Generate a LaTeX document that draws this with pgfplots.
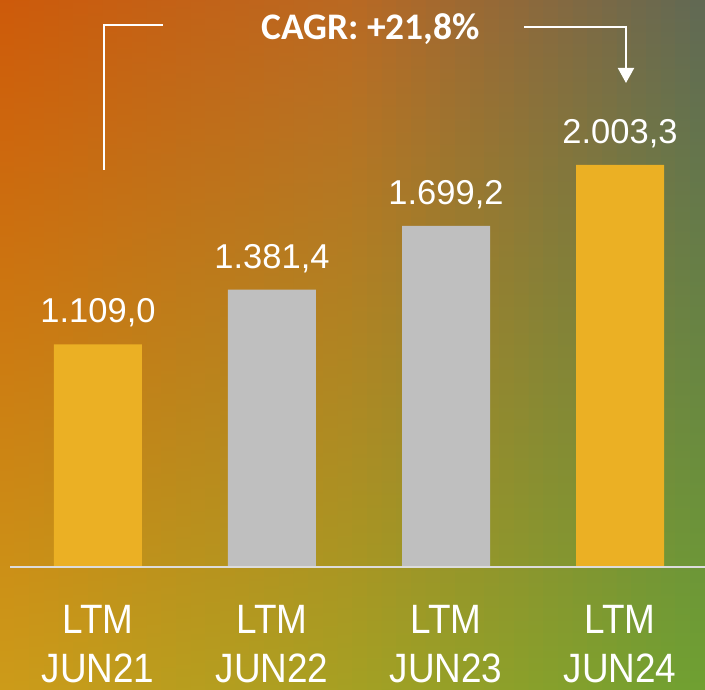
\documentclass[border=0pt]{standalone}
\usepackage{fontspec}
\setmainfont{Liberation Sans}
\newfontfamily\tickfont[FakeStretch=0.9]{Liberation Sans}
\newfontfamily\cagrfont{Carlito}
\usepackage{pgfplots}
\pgfplotsset{compat=1.18}
\usetikzlibrary{arrows.meta}

% background corner colours
\definecolor{cTL}{RGB}{205,90,10}
\definecolor{cTC}{RGB}{185,105,35}
\definecolor{cTR}{RGB}{95,105,85}
\definecolor{cML}{RGB}{205,125,20}
\definecolor{cMC}{RGB}{175,135,35}
\definecolor{cMR}{RGB}{120,150,55}
\definecolor{cBL}{RGB}{205,155,25}
\definecolor{cBC}{RGB}{165,160,35}
\definecolor{cBR}{RGB}{110,160,50}
\definecolor{gold}{RGB}{235,176,36}
\definecolor{bargrey}{RGB}{191,191,191}
\definecolor{linegrey}{RGB}{220,220,220}

\begin{document}
\begin{tikzpicture}[x=1pt,y=1pt]
\useasboundingbox (0,0) rectangle (705,689);
% gradient background, built from thin strips
\foreach \i in {0,...,23}{
  \pgfmathsetmacro\xa{\i*352.5/24}
  \pgfmathsetmacro\xb{(\i+1)*352.5/24+0.6}
  \pgfmathtruncatemacro\p{(\i+0.5)/24*100}
  \colorlet{ct}{cTC!\p!cTL}
  \colorlet{cm}{cMC!\p!cML}
  \colorlet{cb}{cBC!\p!cBL}
  \shade[top color=ct, middle color=cm, bottom color=cb] (\xa,0) rectangle (\xb,689);
}
\foreach \i in {0,...,23}{
  \pgfmathsetmacro\xa{352.5+\i*352.5/24}
  \pgfmathsetmacro\xb{352.5+(\i+1)*352.5/24+0.6}
  \pgfmathtruncatemacro\p{(\i+0.5)/24*100}
  \colorlet{ct}{cTR!\p!cTC}
  \colorlet{cm}{cMR!\p!cMC}
  \colorlet{cb}{cBR!\p!cBC}
  \shade[top color=ct, middle color=cm, bottom color=cb] (\xa,0) rectangle (\xb,689);
}

\begin{axis}[
  at={(0pt,122pt)}, anchor=south west,
  scale only axis, width=705pt, height=567pt,
  xmin=-0.5632, xmax=3.4885, ymin=0, ymax=2825,
  enlargelimits=false,
  ybar, bar width=88pt, bar shift=0pt,
  axis line style={draw=none},
  major tick length=0pt,
  ytick=\empty,
  xtick={0,1,2,3},
  xticklabels={{LTM\\JUN21},{LTM\\JUN22},{LTM\\JUN23},{LTM\\JUN24}},
  xticklabel style={align=center, anchor=north, inner sep=0pt, yshift=-38pt,
    font=\tickfont\fontsize{41}{49}\selectfont, text=white},
  clip=false,
  point meta=y,
  nodes near coords={\pgfmathprintnumber[fixed,fixed zerofill,precision=1,use comma,1000 sep={.},assume math mode=true]{\pgfplotspointmeta}},
  every node near coord/.append style={anchor=base, inner sep=0pt, yshift=21.5pt,
    font=\fontsize{34.5}{40}\selectfont, text=white},
]
\addplot[fill=gold, draw=none, bar shift=0pt] coordinates {(0,1109.0) (3,2003.3)};
\addplot[fill=bargrey, draw=none, bar shift=0pt] coordinates {(1,1381.4) (2,1699.2)};
\end{axis}

\draw[linegrey, line width=2pt] (10,122) -- (705,122);

\node[anchor=base, inner sep=0pt, text=white,
  font=\cagrfont\bfseries\fontsize{37.5}{45}\selectfont] at (370.5,649) {CAGR: +21,8\%};
\draw[white, line width=2pt] (104,519) -- (104,664) -- (163,664);
\draw[white, line width=2pt, -{Triangle[width=16pt,length=15pt]}] (524,662) -- (626,662) -- (626,606);
\end{tikzpicture}
\end{document}
